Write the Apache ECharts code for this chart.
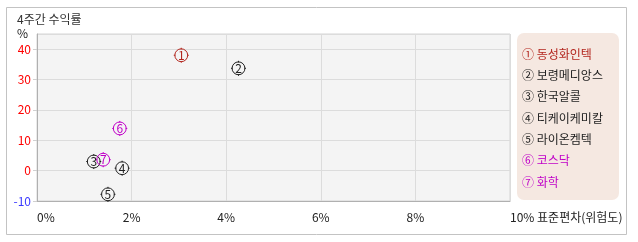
<!DOCTYPE html>
<html><head><meta charset="utf-8">
<script src="https://cdn.jsdelivr.net/npm/echarts@6/dist/echarts.min.js"></script>
<style>html,body{margin:0;padding:0;background:#fff}#c{width:638px;height:242px}</style>
</head><body><div id="c"></div>
<script>
const title = '4주간 수익률';
const names = ['동성화인텍','보령메디앙스','한국알콜','티케이케미칼','라이온켐텍','코스닥','화학'];
const marks = ['①','②','③','④','⑤','⑥','⑦'];
const digits = ['1','2','3','4','5','6','7'];
const riskX = [3.05, 4.26, 1.20, 1.80, 1.50, 1.75, 1.40];
const returnY = [38.0, 33.7, 3.0, 0.8, -7.8, 13.9, 3.6];
const xTicks = [0, 2, 4, 6, 8, 10];
const yTicks = [-10, 0, 10, 20, 30, 40];
const xName = '표준편차(위험도)';
const yName = '%';

const colors = ['#b3261e','#222222','#222222','#222222','#222222','#c000c8','#c000c8'];
const FONT = '"Noto Sans CJK KR", "Noto Sans", sans-serif';
const markerPath = 'path://M7 1 A6 6 0 1 1 6.99 1 Z M7 0 L7 1.6 M7 12.4 L7 14 M0 7 L1.6 7 M12.4 7 L14 7';

const chart = echarts.init(document.getElementById('c'), null, {renderer:'canvas'});
const series = names.map((n, i) => ({
  name: n,
  type: 'scatter',
  data: [[riskX[i], returnY[i]]],
  symbol: markerPath,
  symbolSize: 15,
  itemStyle: {color: 'rgba(0,0,0,0)', borderColor: colors[i], borderWidth: 1, opacity: 1},
  label: {show: true, position: 'inside', formatter: digits[i], color: colors[i], fontSize: 12, fontFamily: FONT},
  emphasis: {disabled: true},
  z: 3
}));

const legendTexts = names.map((n, i) => ({
  type: 'text', x: 522, y: 54 + i * 21.33,
  style: {text: marks[i] + ' ' + n, font: '12px ' + FONT, fill: colors[i], verticalAlign: 'middle', align: 'left'},
  silent: true
}));

const xMax = xTicks[xTicks.length-1];
chart.setOption({
  animation: false,
  textStyle: {fontFamily: FONT},
  graphic: [
    {type:'rect', shape:{x:6.5, y:7.5, width:620, height:227}, style:{fill:'#fff', stroke:'#c3c3c3', lineWidth:1}, z:-10, silent:true},
    {type:'text', left:17, top:13, style:{text:title, font:'12px ' + FONT, fill:'#333'}, silent:true},
    {type:'rect', shape:{x:517, y:33, width:102, height:167, r:7}, style:{fill:'#f5e8e1'}, z:-5, silent:true}
  ].concat(legendTexts),
  grid: {left: 37, top: 34, right: 128, bottom: 41, show: true, backgroundColor: '#f4f4f4', borderColor: '#d4d4d4', borderWidth: 1},
  xAxis: {
    type: 'value', min: xTicks[0], max: xMax, interval: xTicks[1]-xTicks[0],
    axisLine: {show: true, onZero: false, lineStyle: {color: '#b0b0b0'}},
    axisTick: {show: false},
    axisLabel: {
      formatter: v => (v === xMax ? v + '% ' + xName : v + '%'),
      alignMinLabel: 'left', alignMaxLabel: 'left',
      color: '#222', fontSize: 12, margin: 10, fontFamily: FONT
    },
    splitLine: {show: true, lineStyle: {color: '#dcdcdc'}}
  },
  yAxis: {
    type: 'value', min: yTicks[0], max: 45, interval: yTicks[1]-yTicks[0],
    name: yName, nameLocation: 'end', nameGap: 1,
    nameTextStyle: {color:'#222', fontSize: 12, align: 'right', verticalAlign: 'middle', padding: [0,9,0,0], fontFamily: FONT},
    axisLine: {show: true, onZero: false, lineStyle: {color: '#b0b0b0'}},
    axisTick: {show: true, length: 4, lineStyle: {color: '#d0d0d0'}},
    axisLabel: {showMaxLabel: false, color: v => (v < 0 ? '#3a3aff' : '#ff0000'), fontSize: 12, margin: 6, fontFamily: FONT},
    splitLine: {show: true, lineStyle: {color: '#dcdcdc'}}
  },
  series: series
});
</script></body></html>
